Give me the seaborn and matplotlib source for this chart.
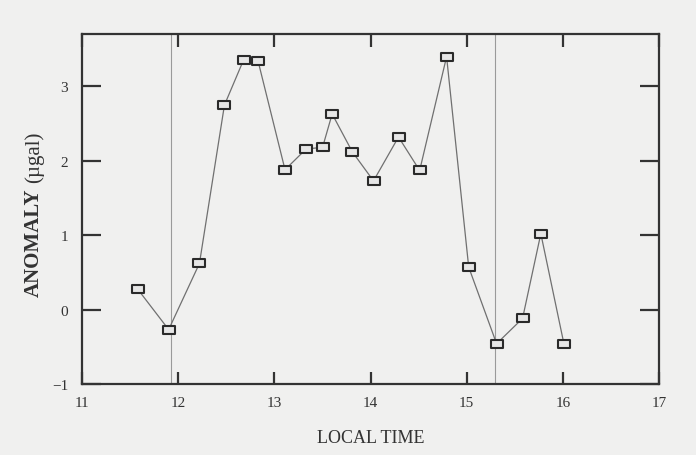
import matplotlib
matplotlib.use("Agg")
import matplotlib.pyplot as plt
from matplotlib.path import Path
import seaborn as sns
import pandas as pd

# values
local_time = [11.58, 11.90, 12.22, 12.48, 12.68, 12.83, 13.11, 13.33, 13.50, 13.60,
              13.81, 14.03, 14.29, 14.51, 14.79, 15.02, 15.31, 15.58, 15.77, 16.01]
anomaly = [0.27, -0.27, 0.62, 2.75, 3.36, 3.34, 1.88, 2.16, 2.18, 2.63,
           2.12, 1.73, 2.32, 1.87, 3.40, 0.57, -0.46, -0.12, 1.02, -0.46]
marks = [11.92, 15.29]
x_ticks = [11, 12, 13, 14, 15, 16, 17]
y_ticks = [-1, 0, 1, 2, 3]

df = pd.DataFrame({"time": local_time, "anomaly": anomaly})

sns.set_style("ticks")
plt.rcParams["font.family"] = ["Liberation Serif", "DejaVu Serif"]

paper = "#f0f0ef"
ink = "#333333"
fig = plt.figure(figsize=(6.96, 4.56), dpi=100, facecolor=paper)
ax = fig.add_axes([0.118, 0.156, 0.829, 0.768], facecolor=paper)

# small box marker, wider than tall
box = Path([(-1.4, -1), (1.4, -1), (1.4, 1), (-1.4, 1), (-1.4, -1)],
           [Path.MOVETO, Path.LINETO, Path.LINETO, Path.LINETO, Path.CLOSEPOLY])

for m in marks:
    ax.axvline(m, color="#9a9a9a", lw=0.8, zorder=1)

sns.lineplot(data=df, x="time", y="anomaly", sort=False, ax=ax,
             color="#707070", lw=0.9, marker=box, markersize=8.5,
             markerfacecolor="#e6e6e6", markeredgecolor="#2a2a2a",
             markeredgewidth=1.5, zorder=3)

ax.set_xlim(11, 17)
ax.set_ylim(-1, 3.71)
ax.set_xticks(x_ticks)
ax.set_yticks(y_ticks)
ax.set_yticklabels(["\u22121", "0", "1", "2", "3"])

for s in ax.spines.values():
    s.set_linewidth(1.6)
    s.set_color(ink)

ax.tick_params(axis="x", direction="in", length=9, width=1.6, color=ink,
               top=True, labelsize=11, pad=9, labelcolor=ink)
ax.tick_params(axis="y", direction="in", length=14, width=1.6, color=ink,
               right=True, labelsize=11, pad=10, labelcolor=ink)

ax.set_xlabel("LOCAL TIME", fontsize=13, labelpad=14, color=ink)
ax.set_ylabel("")

# y label: bold word plus regular unit, stacked bottom to top
word = fig.text(0.049, 0.349, "ANOMALY", rotation=90, fontsize=15,
                fontweight="bold", color=ink, ha="center", va="bottom")
ax.annotate("(\u00b5gal)", xy=(0.5, 1), xycoords=word, xytext=(0, 4),
            textcoords="offset points", rotation=90, fontsize=15,
            color=ink, ha="center", va="bottom", annotation_clip=False)

fig.savefig("out.png", dpi=100, facecolor=paper)
